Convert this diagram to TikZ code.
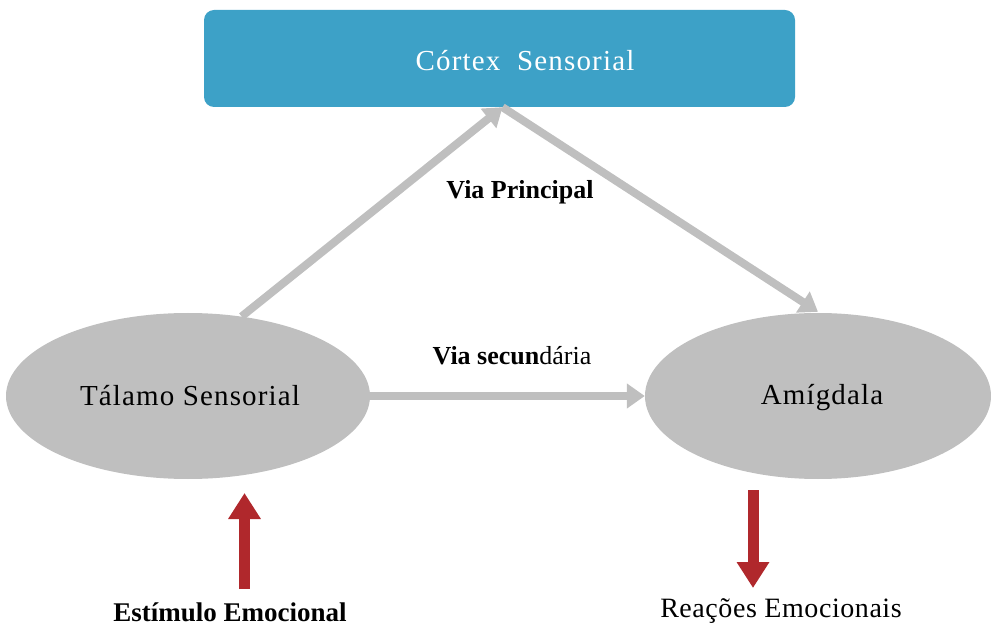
\documentclass[tikz,border=0pt]{standalone}
\usepackage{fontspec}
\setmainfont{Liberation Serif}
\usetikzlibrary{arrows.meta,shapes.geometric}
\definecolor{cblue}{HTML}{3DA1C7}
\definecolor{cgray}{HTML}{BFBFBF}
\definecolor{cred}{HTML}{B0282C}
\tikzset{
  regtext/.style={font=\fontsize{29}{32}\selectfont\addfontfeatures{LetterSpace=4}, inner sep=0pt},
  boldtext/.style={font=\bfseries\fontsize{26}{30}\selectfont, inner sep=0pt},
  blob/.style={ellipse, fill=cgray, draw=none, inner sep=0pt},
  grayarrow/.style={draw=cgray, line width=8pt, -{Triangle[width=24pt,length=18pt]}},
  redarrow/.style={draw=cred, line width=11pt, -{Triangle[width=31pt,length=26pt]}},
}
\begin{document}
\begin{tikzpicture}[x=1pt,y=-1pt]
\useasboundingbox (0,0) rectangle (991,628);
% nodes
\node[fill=cblue, rounded corners=10pt, minimum width=591pt, minimum height=97pt, inner sep=0pt] (cortex) at (499.5,58.5) {};
\node[regtext, text=white] (cortxt) at (525,61) {Córtex\ \ Sensorial};
\node[blob, minimum width=364pt, minimum height=166pt] (tal) at (188,396) {};
\node[blob, minimum width=346pt, minimum height=166pt] (amig) at (818,396) {};
\node[regtext] (taltxt) at (190,396) {Tálamo Sensorial};
\node[regtext] (amigtxt) at (822,398) {Amígdala};
\node[boldtext] (vp) at (520,192) {Via Principal};
\node[inner sep=0pt, font=\fontsize{26}{30}\selectfont] (vs) at (512,356) {\textbf{Via secun}dária};
\node[boldtext, font=\bfseries\fontsize{27}{30}\selectfont] (est) at (230,612) {Estímulo Emocional};
\node[regtext, font=\fontsize{28}{32}\selectfont\addfontfeatures{LetterSpace=2}] (reac) at (781,611) {Reações Emocionais};
% connectors
\coordinate (apex) at ([xshift=3pt]cortex.south);
\draw[grayarrow] (tal.56) -- (apex);
\draw[grayarrow] (apex) -- ([yshift=1pt]amig.north);
\draw[grayarrow] (tal.east) -- (amig.west);
\coordinate (s1) at (244.5,589);
\coordinate (s2) at (244.5,493);
\coordinate (r1) at (753,490);
\coordinate (r2) at (753,588);
\draw[redarrow] (s1) -- (s2);
\draw[redarrow] (r1) -- (r2);
\end{tikzpicture}
\end{document}
